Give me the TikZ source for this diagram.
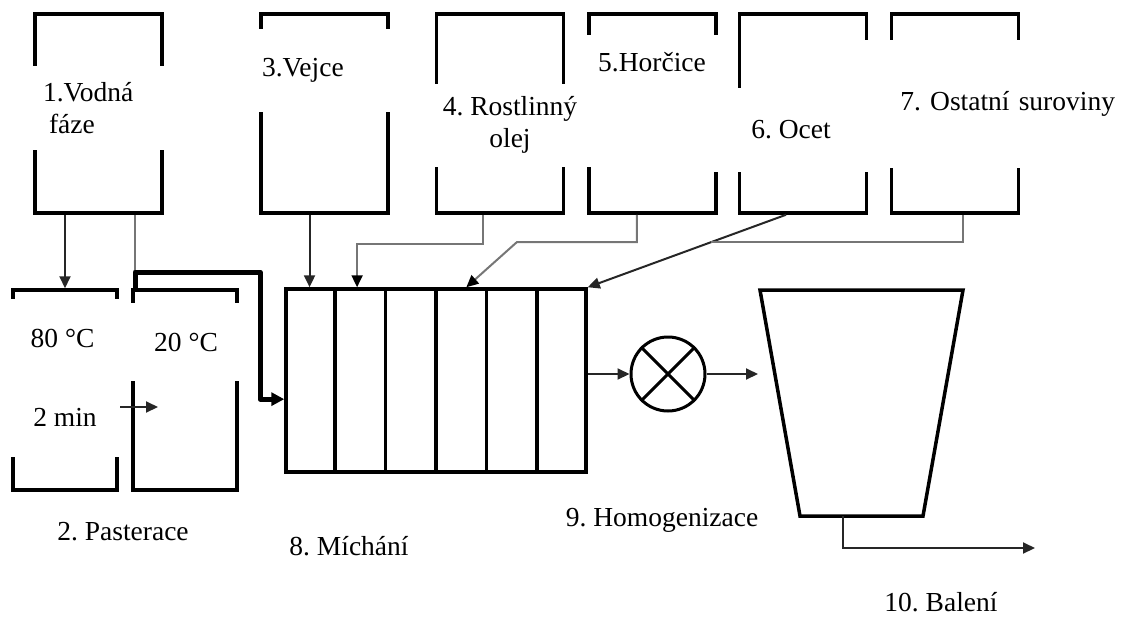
\documentclass[tikz,border=0pt]{standalone}
\usepackage{fontspec}
\setmainfont{Liberation Serif}
\usepackage{tikz}
\usetikzlibrary{arrows.meta, positioning, calc}
\definecolor{cFeed}{RGB}{118,118,118}
\frenchspacing
\tikzset{
    tank/.style    ={rectangle, draw=black, line width=3.5pt, minimum width=127pt, minimum height=199pt, inner sep=0pt},
    pastbox/.style ={rectangle, draw=black, line width=3.5pt, minimum width=104pt, minimum height=200pt, inner sep=0pt},
    tag/.style     ={rectangle, fill=white, inner sep=0pt, align=center, font=\fontsize{27.5}{32}\selectfont},
    caption/.style ={inner sep=0pt, font=\fontsize{27.5}{32}\selectfont},
    flow/.style    ={-{Triangle[length=12pt, width=11pt]}, line width=2pt, draw=black!85},
    feed/.style    ={line width=2pt, draw=cFeed},
    feedarrow/.style={feed, -{Triangle[length=12pt, width=11pt, color=black]}},
    pipe/.style    ={-{Triangle[length=13pt, width=13pt]}, line width=5pt, line join=round},
}

\begin{document}
\begin{tikzpicture}[x=1pt, y=-1pt]
    \useasboundingbox (0,0) rectangle (1132,616);
    % raw material tanks
    \node[tank] (water)   at (98.5,113.5)  {};
    \node[tank] (egg)     at (324.5,113.5) {};
    \node[tank] (oil)     at (500,113.5)   {};
    \node[tank] (mustard) at (652.5,113.5) {};
    \node[tank] (vinegar) at (803,113.5)   {};
    \node[tank] (other)   at (955,113.5)   {};
    % pasteurisation
    \node[pastbox] (heat) at (65,390)  {};
    \node[pastbox] (cool) at (185,390) {};
    % mixer with six chambers
    \node[rectangle, draw=black, line width=3.5pt, minimum width=300pt, minimum height=183pt, inner sep=0pt] (mix) at (436,380.5) {};
    \foreach \i in {1,...,5}
        \draw[line width=3.5pt] ($(mix.north west)!\i/6!(mix.north east)$) -- ($(mix.south west)!\i/6!(mix.south east)$);
    % homogeniser
    \node[circle, draw=black, line width=3pt, minimum size=74pt, inner sep=0pt] (homog) at (668,374) {};
    \draw[line width=3pt] (homog.45) -- (homog.225) (homog.135) -- (homog.315);
    % packing hopper
    \coordinate (hopNW) at (760,290);
    \coordinate (hopNE) at (963,290);
    \coordinate (hopSE) at (923,516);
    \coordinate (hopSW) at (800,516);
    \draw[line width=3.5pt] (hopNW) -- (hopNE) -- (hopSE) -- (hopSW) -- cycle;

    % connectors
    \coordinate (pipeA)  at (135,272);
    \coordinate (pipeB)  at (260,272);
    \coordinate (mixin)  at ($(mix.north west)!0.6!(mix.south west)$);
    \coordinate (coolin) at (158,407);
    \coordinate (c1) at ($(mix.north west)!1/12!(mix.north east)$);
    \coordinate (c2) at ($(mix.north west)!0.24!(mix.north east)$);
    \coordinate (c4) at ($(mix.north west)!0.6!(mix.north east)$);
    \coordinate (k5) at (517,242);
    \coordinate (v6) at ($(vinegar.south west)!0.37!(vinegar.south east)$);
    \coordinate (hopin)   at (758,374);
    \coordinate (hopout)  at ($(hopSW)!0.35!(hopSE)$);
    \coordinate (packing) at (1035,548);

    \draw[flow] (heat.north |- water.south) -- (heat.north);
    \draw[feed] (water.south -| pipeA) -- (pipeA);
    \draw[pipe] (pipeA |- cool.north) -- (pipeA) -- (pipeB) -- (pipeB |- mixin) -- (mixin);
    \draw[flow] (heat.east |- coolin) -- (coolin);
    \draw[flow] (egg.south -| c1) -- (c1);
    \draw[feedarrow] ($(oil.south west)!0.37!(oil.south east)$) -- ++(0,29) -| (c2);
    \draw[feedarrow] ($(mustard.south west)!0.38!(mustard.south east)$) |- (k5) -- (c4);
    \draw[flow] (v6) -- (mix.north east);
    \draw[feed] ($(other.south west)!0.56!(other.south east)$) |- ($(v6)!0.38!(mix.north east)$);
    \draw[flow] (mix.east |- homog.west) -- (homog.west);
    \draw[flow] (homog.east) -- (hopin);
    \draw[flow] (hopout) |- (packing);

    % labels
    \node[tag, minimum width=140pt, minimum height=84pt, text width=110pt, inner xsep=15pt, align=left] (lwater) at (98,108) {1.Vodná\\\hspace*{6pt}fáze};
    \node[tag, minimum width=140pt, minimum height=83pt, text width=126pt, inner xsep=7pt, align=left] (legg) at (325,70) {3.Vejce};
    \node[tag, minimum width=165pt, minimum height=83pt] (loil) at (510,125) {4. Rostlinný\\olej};
    \node[tag, minimum width=145pt, minimum height=55pt] (lmustard) at (652,62) {5.Horčice};
    \node[tag, minimum width=167pt, minimum height=84pt] (lvinegar) at (791,130) {6. Ocet};
    \node[tag, minimum height=128pt, text width=240pt, inner xsep=17pt, align=right] (lother) at (995,104) {7. Ostatní suroviny};
    \node[tag, minimum width=115pt, minimum height=79pt] (lheat) at (62.5,338) {80 °C};
    \node[tag, minimum width=132pt, minimum height=78pt] (lcool) at (186,342) {20 °C};
    \node[tag, minimum width=110pt, minimum height=79pt] (ltime) at (65,417.5) {2 min};

    \node[caption] (cpast)  at (123,532) {2. Pasterace};
    \node[caption] (cmix)   at (349,546) {8. Míchání};
    \node[caption] (chomog) at (662,520) {9. Homogenizace};
    \node[caption] (cpack)  at (941,602) {10. Balení};
\end{tikzpicture}
\end{document}
